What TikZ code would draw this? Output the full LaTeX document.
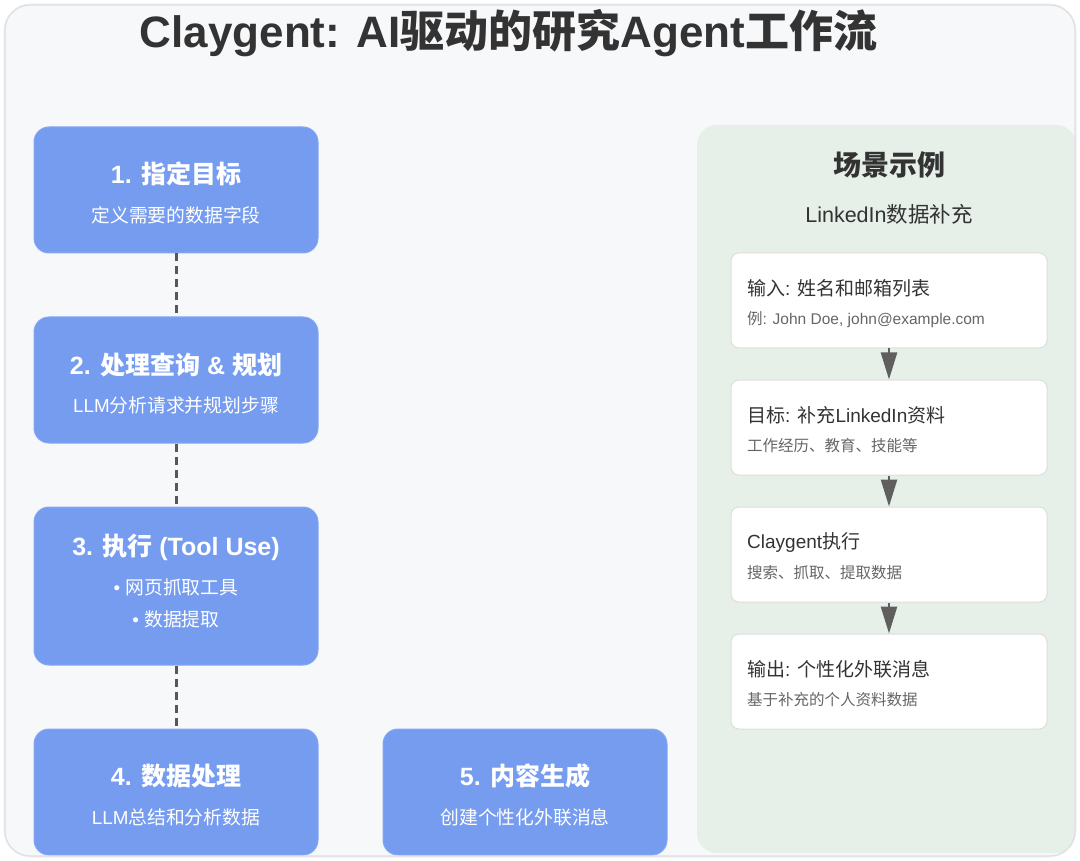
\documentclass[tikz,border=0pt]{standalone}
\usepackage{fontspec}
\setmainfont{Liberation Sans}
\newfontfamily\cjk{Noto Sans CJK SC}
\newcommand{\zh}[1]{{\cjk #1}}
\usetikzlibrary{arrows.meta}
\definecolor{framebg}{HTML}{F7F8FA}
\definecolor{frameedge}{HTML}{DEDFE2}
\definecolor{boxblue}{HTML}{769CF0}
\definecolor{boxedge}{HTML}{86A8F3}
\definecolor{panelgreen}{HTML}{E6EFE8}
\definecolor{wedge}{HTML}{DCDEDC}
\definecolor{titlegray}{HTML}{333333}
\definecolor{subgray}{HTML}{666666}
\definecolor{dashgray}{HTML}{585858}
\definecolor{arrgray}{HTML}{5F5F5F}
\tikzset{
  bluebox/.style={fill=boxblue, draw=boxedge, line width=1pt, rounded corners=15pt, inner sep=0pt},
  wbox/.style={fill=white, draw=wedge, line width=1pt, rounded corners=8pt, inner sep=0pt, minimum width=316pt, minimum height=95pt},
  btitle/.style={text=white, font=\fontsize{25}{30}\selectfont\bfseries, inner sep=0pt},
  bsub/.style={text=white, font=\fontsize{18.8}{22}\selectfont, inner sep=0pt},
  wtitle/.style={text=titlegray, font=\fontsize{19}{23}\selectfont, inner sep=0pt, anchor=west},
  wsub/.style={text=subgray, font=\fontsize{15.5}{19}\selectfont, inner sep=0pt, anchor=west},
  conn/.style={draw=dashgray, line width=3pt, dash pattern=on 8pt off 5pt},
  arr/.style={draw=arrgray, line width=2.5pt, -{Triangle[length=27pt,width=16pt]}}
}
\begin{document}
\begin{tikzpicture}[x=1pt, y=-1pt]
\useasboundingbox (0,0) rectangle (1080,861);
% frame shadow and background
\draw[rounded corners=26pt, draw=black!6, line width=3pt] (5,5) rectangle (1075,856);
\fill[framebg, rounded corners=25pt] (5,5) rectangle (1075,856);
\begin{scope}
\clip[rounded corners=25pt] (5,5) rectangle (1075,856);
% title
\node[font=\fontsize{44}{50}\selectfont\bfseries, text=titlegray, inner sep=0pt] (title) at (508.5,33) {Claygent: AI\zh{驱动的研究}Agent\zh{工作流}};
% left blue boxes
\node[bluebox, minimum width=284pt, minimum height=126pt] (b1) at (176,190) {};
\node[bluebox, minimum width=284pt, minimum height=126pt] (b2) at (176,380) {};
\node[bluebox, minimum width=284pt, minimum height=158pt] (b3) at (176,586) {};
\node[bluebox, minimum width=284pt, minimum height=126pt] (b4) at (176,792) {};
\node[bluebox, minimum width=284pt, minimum height=126pt] (b5) at (525,792) {};
\node[btitle] (t1) at (176,174) {1. \zh{指定目标}};
\node[bsub] (s1) at (176,215) {\zh{定义需要的数据字段}};
\node[btitle] (t2) at (176,365) {2. \zh{处理查询} \& \zh{规划}};
\node[bsub] (s2) at (176,405) {LLM\zh{分析请求并规划步骤}};
\node[btitle] (t3) at (176,547) {3. \zh{执行} (Tool Use)};
\node[bsub] (s3a) at (176,587) {• \zh{网页抓取工具}};
\node[bsub] (s3b) at (176,619) {• \zh{数据提取}};
\node[btitle] (t4) at (176,776) {4. \zh{数据处理}};
\node[bsub] (s4) at (176,817) {LLM\zh{总结和分析数据}};
\node[btitle] (t5) at (525,776) {5. \zh{内容生成}};
\node[bsub] (s5) at (525,817) {\zh{创建个性化外联消息}};
\draw[conn] (b1.south) -- (b2.north);
\draw[conn] (b2.south) -- (b3.north);
\draw[conn] (b3.south) -- (b4.north);
% right panel
\node[fill=panelgreen, rounded corners=20pt, minimum width=379pt, minimum height=728pt, inner sep=0pt] (panel) at (886.5,489) {};
\node[text=titlegray, font=\fontsize{28}{32}\selectfont\bfseries, inner sep=0pt] (ptitle) at (889,165) {\zh{场景示例}};
\node[text=titlegray, font=\fontsize{21.5}{26}\selectfont, inner sep=0pt] (psub) at (889,214) {LinkedIn\zh{数据补充}};
\node[wbox] (w1) at (889,300.5) {};
\node[wbox] (w2) at (889,427.5) {};
\node[wbox] (w3) at (889,554.5) {};
\node[wbox] (w4) at (889,681.5) {};
\node[wtitle] (w1t) at (747,288) {\zh{输入}: \zh{姓名和邮箱列表}};
\node[wsub] (w1s) at (747,320) {\zh{例}: John Doe, john@example.com};
\node[wtitle] (w2t) at (747,415) {\zh{目标}: \zh{补充}LinkedIn\zh{资料}};
\node[wsub] (w2s) at (747,446) {\zh{工作经历、教育、技能等}};
\node[wtitle] (w3t) at (747,542) {Claygent\zh{执行}};
\node[wsub] (w3s) at (747,573) {\zh{搜索、抓取、提取数据}};
\node[wtitle] (w4t) at (747,669) {\zh{输出}: \zh{个性化外联消息}};
\node[wsub] (w4s) at (747,700) {\zh{基于补充的个人资料数据}};
\draw[arr] (w1.south) -- (w2.north);
\draw[arr] (w2.south) -- (w3.north);
\draw[arr] (w3.south) -- (w4.north);
\end{scope}
\draw[rounded corners=25pt, draw=frameedge, line width=1.2pt] (5,5) rectangle (1075,856);
\end{tikzpicture}
\end{document}
